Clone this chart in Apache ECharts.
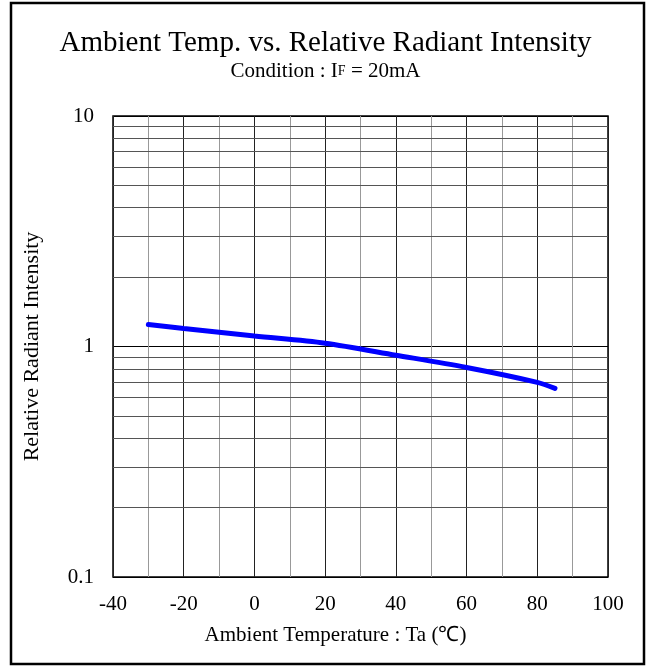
<!DOCTYPE html>
<html><head><meta charset="utf-8">
<script src="https://cdn.jsdelivr.net/npm/echarts@6/dist/echarts.min.js"></script>
<style>html,body{margin:0;padding:0;background:#fff}#c{width:651px;height:666px}</style>
</head><body><div id="c"></div>
<script>
const temps = [-30, -20, 0, 20, 40, 60, 80, 85];
const intensity = [1.245, 1.197, 1.11, 1.033, 0.917, 0.811, 0.699, 0.658];
const xTickLabels = [-40, -20, 0, 20, 40, 60, 80, 100];
const yTickLabels = [0.1, 1, 10];
const yMinorLines = [0.2, 0.3, 0.4, 0.5, 0.6, 0.7, 0.8, 0.9, 2, 3, 4, 5, 6, 7, 8, 9];

const serif = '"Liberation Serif", "Times New Roman", serif';
const chart = echarts.init(document.getElementById('c'));
chart.setOption({
  backgroundColor: '#fff',
  animation: false,
  title: [{
    text: 'Ambient Temp. vs. Relative Radiant Intensity',
    left: 'center', top: 29, padding: 0,
    textStyle: { fontFamily: serif, fontSize: 29, fontWeight: 'normal', color: '#000' }
  }, {
    text: 'Condition : I{s|F} = 20mA',
    left: 'center', top: 61, padding: 0,
    textStyle: { fontFamily: serif, fontSize: 21, fontWeight: 'normal', color: '#000',
      rich: { s: { fontFamily: serif, fontSize: 14, color: '#000' } } }
  }],
  graphic: [{
    type: 'rect', shape: { x: 11, y: 3, width: 633, height: 661 },
    style: { fill: 'none', stroke: '#000', lineWidth: 2.5 }, silent: true, z: 100
  }],
  grid: { left: 113, top: 116, right: 43, bottom: 89, show: true, borderColor: '#000', borderWidth: 1.5, backgroundColor: 'transparent' },
  xAxis: {
    type: 'value', min: -40, max: 100, interval: 10,
    name: 'Ambient Temperature : Ta (℃)', nameLocation: 'middle', nameGap: 48,
    nameTextStyle: { fontFamily: serif, fontSize: 21, color: '#000', padding: [0, 50, 0, 0] },
    axisLine: { show: false }, axisTick: { show: false },
    axisLabel: { fontFamily: serif, fontSize: 21, color: '#000', margin: 17,
      formatter: v => xTickLabels.indexOf(v) >= 0 ? String(v) : '' },
    splitLine: { show: true, lineStyle: { color: ['#222', '#999'], width: 1 } }
  },
  yAxis: {
    type: 'log', logBase: 10, min: 0.1, max: 10,
    name: 'Relative Radiant Intensity', nameLocation: 'middle', nameGap: 70,
    nameTextStyle: { fontFamily: serif, fontSize: 22, color: '#000' },
    axisLine: { show: false }, axisTick: { show: false },
    axisLabel: { fontFamily: serif, fontSize: 21, color: '#000', margin: 19,
      formatter: v => { const f = yTickLabels.find(t => Math.abs(t - v) < 1e-9); return f !== undefined ? String(f) : ''; } },
    splitLine: { show: true, lineStyle: { color: '#000', width: 1.2 } }
  },
  series: [{
    type: 'line', data: temps.map((t, i) => [t, intensity[i]]),
    smooth: 0.3, showSymbol: false, symbol: 'none',
    lineStyle: { color: '#0000ff', width: 5, cap: 'round' }, z: 10,
    markLine: {
      silent: true, symbol: 'none', animation: false,
      label: { show: false },
      lineStyle: { color: '#555', width: 1, type: 'solid' },
      data: yMinorLines.map(v => ({ yAxis: v }))
    }
  }]
});
</script></body></html>
